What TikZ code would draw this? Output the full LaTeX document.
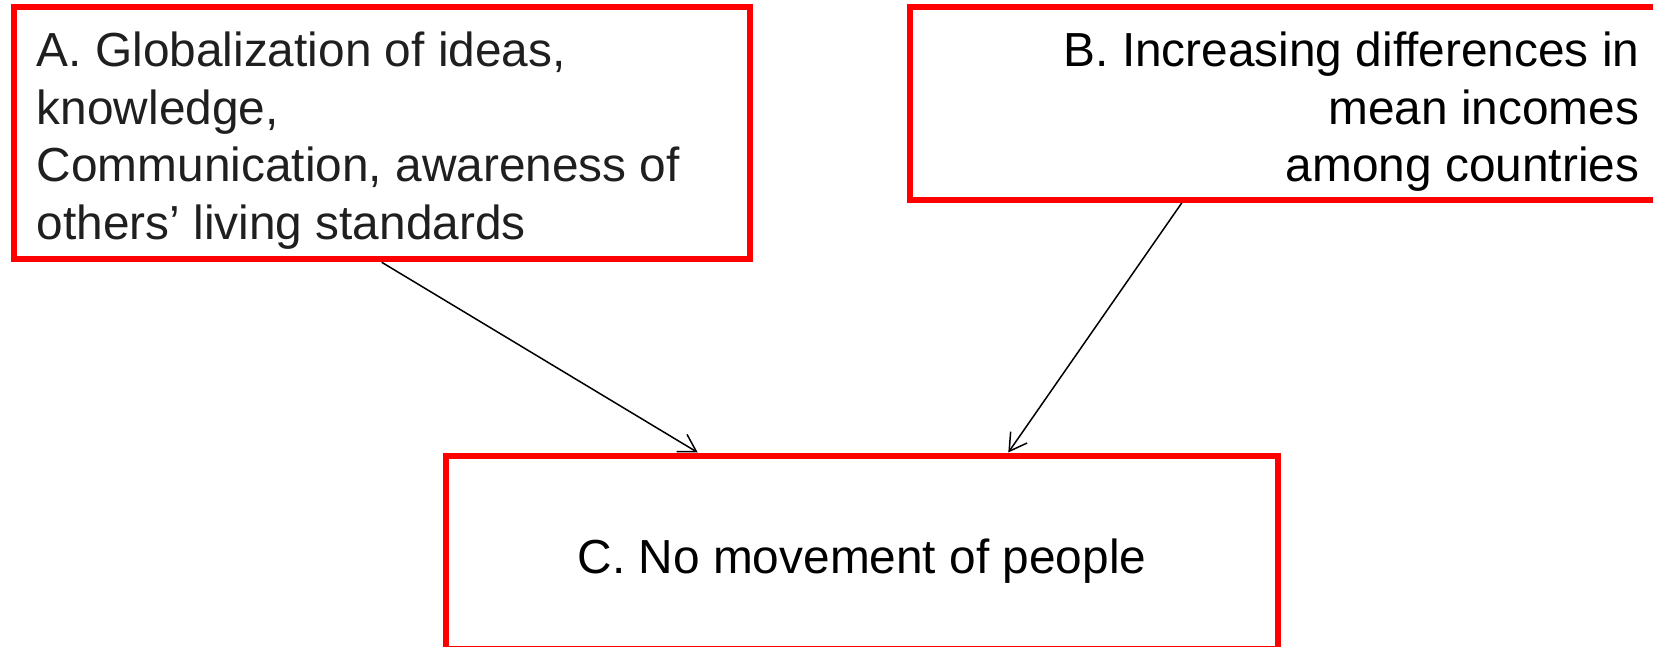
\documentclass[tikz,border=0pt]{standalone}
\usepackage{fontspec}
\setmainfont{Liberation Sans}
\usetikzlibrary{arrows.meta}
\begin{document}
\begin{tikzpicture}[x=1pt,y=-1pt,
  box/.style={draw=red, line width=6pt, rectangle, inner sep=0pt},
  txt/.style={font=\fontsize{47.8}{57.5}\selectfont, inner sep=0pt},
  conn/.style={line width=1.5pt, -{Straight Barb[length=17pt,width=20pt,line width=1.5pt]}}]
\useasboundingbox (0,0) rectangle (1653,647);
\clip (0,0) rectangle (1653,647);
\node[box, minimum width=735.9pt, minimum height=252.3pt] (A) at (381.75,133.15) {};
\node[box, minimum width=750.3pt, minimum height=193pt] (B) at (1284.85,103.5) {};
\node[box, minimum width=832pt, minimum height=193.5pt] (C) at (862,552.25) {};
\node[txt, anchor=base west, align=left, text=black!88] (At) at (36.7,239.2) {A. Globalization of ideas,\\knowledge,\\Communication, awareness of\\others’ living standards};
\node[txt, anchor=base east, align=right] (Bt) at (1639.5,181.7) {B. Increasing differences in\\mean incomes\\among countries};
\node[txt, anchor=base] (Ct) at (862,573.3) {C. No movement of people};
\draw[conn] (A.south) -- ([xshift=-164.3pt]C.north);
\draw[conn] ([xshift=-103.15pt]B.south) -- ([xshift=146.3pt]C.north);
\end{tikzpicture}
\end{document}
